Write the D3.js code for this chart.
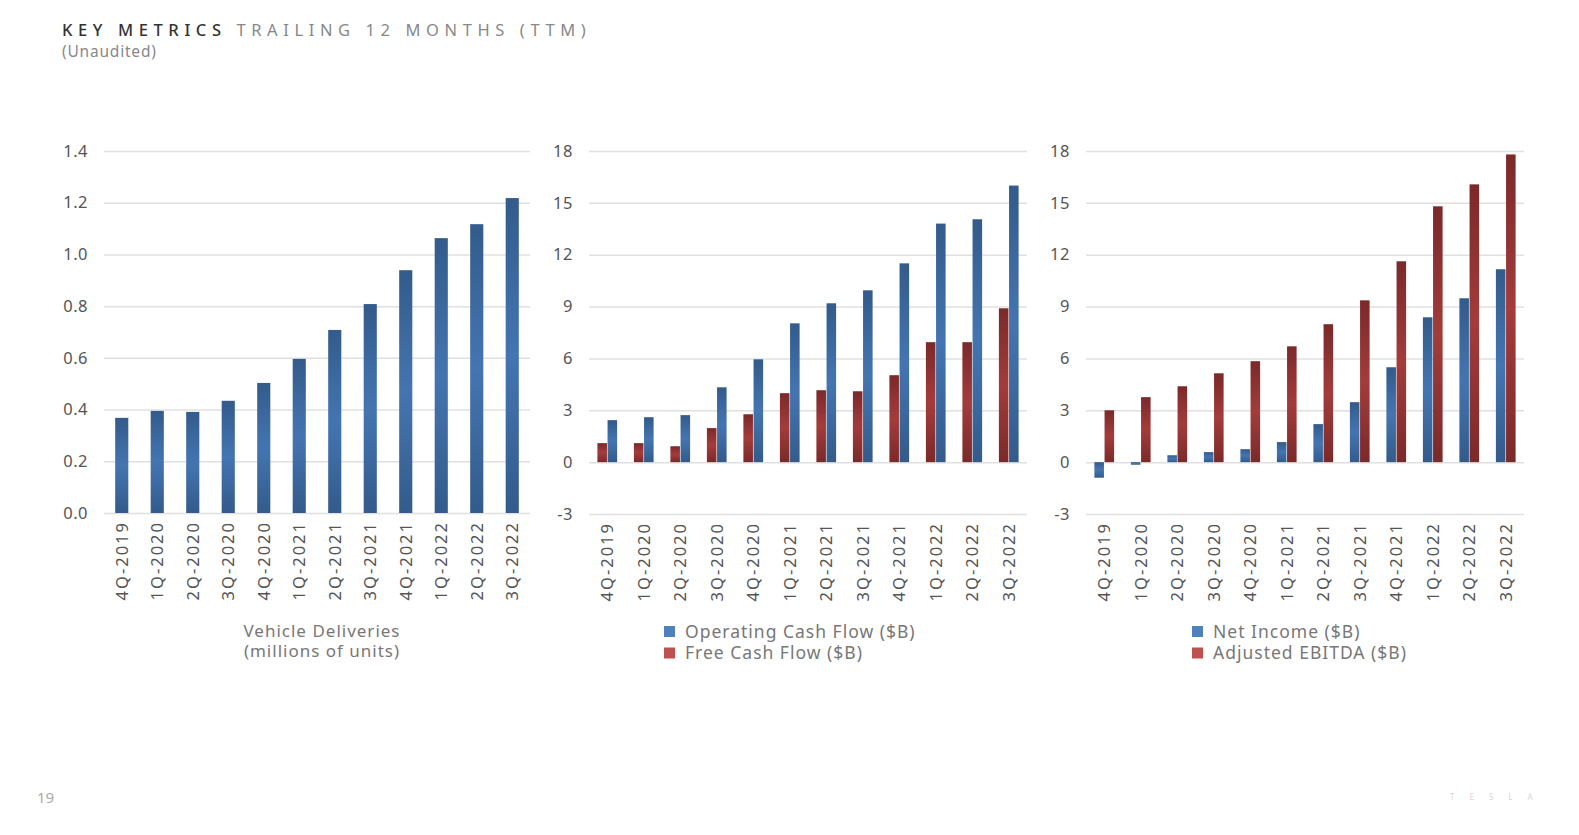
<!DOCTYPE html>
<html>
<head>
<meta charset="utf-8">
<script src="https://cdn.jsdelivr.net/npm/d3@7"></script>
<style>
  body { margin: 0; background: #fff; }
  svg { display: block; font-family: "Noto Sans", sans-serif; }
</style>
</head>
<body>
<svg id="slide" width="1579" height="835"></svg>
<script>
// quarters shown on every panel
const quarters = ["4Q-2019", "1Q-2020", "2Q-2020", "3Q-2020", "4Q-2020", "1Q-2021",
  "2Q-2021", "3Q-2021", "4Q-2021", "1Q-2022", "2Q-2022", "3Q-2022"];

// panel 1, millions of units
const deliveries = [0.368, 0.395, 0.391, 0.434, 0.503, 0.596, 0.708, 0.808, 0.939, 1.063, 1.117, 1.218];
const deliveryTicks = [0, 0.2, 0.4, 0.6, 0.8, 1.0, 1.2, 1.4];

// panel 2, $B
const freeCashFlow = [1.1, 1.1, 0.92, 1.97, 2.77, 3.99, 4.16, 4.1, 5.03, 6.94, 6.94, 8.9];
const operatingCashFlow = [2.43, 2.6, 2.72, 4.33, 5.95, 8.03, 9.19, 9.94, 11.5, 13.8, 14.05, 16.0];

// panel 3, $B
const netIncome = [-0.9, -0.15, 0.4, 0.58, 0.75, 1.16, 2.2, 3.47, 5.49, 8.38, 9.48, 11.16];
const adjustedEbitda = [3.0, 3.76, 4.39, 5.14, 5.84, 6.7, 7.98, 9.36, 11.62, 14.8, 16.07, 17.8];

const dollarTicks = [-3, 0, 3, 6, 9, 12, 15, 18];

const svg = d3.select("#slide");

// bar fills: dark at the ends, lighter in the middle
const defs = svg.append("defs");
function addGradient(id, dark, light) {
  const g = defs.append("linearGradient")
    .attr("id", id)
    .attr("x1", 0).attr("y1", 0)
    .attr("x2", 0).attr("y2", 1);
  g.append("stop").attr("offset", "0%").attr("stop-color", dark);
  g.append("stop").attr("offset", "50%").attr("stop-color", light);
  g.append("stop").attr("offset", "100%").attr("stop-color", dark);
}
addGradient("blueBar", "#335b8b", "#4475b1");
addGradient("redBar", "#7b292a", "#a33c3b");

const fills = { blue: "url(#blueBar)", red: "url(#redBar)" };
const legendColors = { blue: "#4f81bd", red: "#c0504d" };

// title
const title = svg.append("text")
  .attr("x", 62)
  .attr("y", 36)
  .attr("font-size", 16.5)
  .attr("letter-spacing", 5.6);
title.append("tspan").attr("fill", "#333").attr("font-weight", 500).text("KEY METRICS ");
title.append("tspan").attr("fill", "#888").text("TRAILING 12 MONTHS (TTM)");

svg.append("text")
  .attr("x", 62)
  .attr("y", 57)
  .attr("font-size", 15.5)
  .attr("letter-spacing", 0.8)
  .attr("fill", "#888")
  .text("(Unaudited)");

function drawPanel(p) {
  const g = svg.append("g");

  const y = d3.scaleLinear().domain(p.domain).range([p.bottom, p.top]);
  const x = d3.scaleBand()
    .domain(quarters)
    .range([p.left, p.right])
    .paddingInner(p.pad)
    .paddingOuter(p.pad / 2);
  const x1 = d3.scaleBand()
    .domain(d3.range(p.series.length))
    .range([0, x.bandwidth()])
    .paddingInner(p.series.length > 1 ? 0.06 : 0);

  // gridlines + y labels
  const yAxis = g.append("g")
    .attr("transform", `translate(${p.left},0)`)
    .call(d3.axisLeft(y)
      .tickValues(p.ticks)
      .tickFormat(p.format)
      .tickSize(-(p.right - p.left))
      .tickPadding(16));
  yAxis.select(".domain").remove();
  yAxis.selectAll("line").attr("stroke", "#e0e0e0").attr("stroke-width", 1.5);
  yAxis.selectAll("text")
    .attr("font-size", 16.5)
    .attr("letter-spacing", 0.5)
    .attr("fill", "#555")
    .attr("font-family", "Noto Sans, sans-serif");

  // bars
  p.series.forEach((s, i) => {
    g.append("g")
      .selectAll("rect")
      .data(s.values)
      .join("rect")
      .attr("x", (d, j) => x(quarters[j]) + x1(i))
      .attr("width", x1.bandwidth())
      .attr("y", (d) => y(Math.max(d, 0)))
      .attr("height", (d) => Math.abs(y(d) - y(0)))
      .attr("fill", fills[s.color]);
  });

  // quarter labels
  const xAxis = g.append("g")
    .attr("transform", `translate(0,${y(p.domain[0])})`)
    .call(d3.axisBottom(x).tickSize(0));
  xAxis.select(".domain").remove();
  xAxis.selectAll("text")
    .attr("transform", "rotate(-90)")
    .attr("x", -8)
    .attr("y", 0)
    .attr("dy", "0.36em")
    .attr("text-anchor", "end")
    .attr("font-size", 16.5)
    .attr("letter-spacing", 2)
    .attr("fill", "#555")
    .attr("font-family", "Noto Sans, sans-serif");

  // caption / legend
  if (p.caption) {
    p.caption.forEach((line, k) => {
      g.append("text")
        .attr("x", p.captionX)
        .attr("y", 637 + k * 20)
        .attr("text-anchor", "middle")
        .attr("font-size", 17)
        .attr("letter-spacing", 1)
        .attr("fill", "#777")
        .text(line);
    });
  } else {
    p.legend.forEach((item, k) => {
      g.append("rect")
        .attr("x", p.legendX)
        .attr("y", 626 + k * 21.5)
        .attr("width", 11)
        .attr("height", 11)
        .attr("fill", legendColors[item.color]);
      g.append("text")
        .attr("x", p.legendX + 21)
        .attr("y", 638 + k * 21)
        .attr("font-size", 17.5)
        .attr("letter-spacing", 1)
        .attr("fill", "#777")
        .text(item.label);
    });
  }
}

drawPanel({
  left: 104, right: 530, top: 151, bottom: 513,
  domain: [0, 1.4], ticks: deliveryTicks, format: d3.format(".1f"),
  pad: 0.63,
  series: [{ values: deliveries, color: "blue" }],
  caption: ["Vehicle Deliveries", "(millions of units)"], captionX: 322
});

drawPanel({
  left: 589, right: 1027, top: 151, bottom: 514,
  domain: [-3, 18], ticks: dollarTicks, format: (d) => String(d),
  pad: 0.46,
  series: [
    { values: freeCashFlow, color: "red" },
    { values: operatingCashFlow, color: "blue" }
  ],
  legendX: 664,
  legend: [
    { label: "Operating Cash Flow ($B)", color: "blue" },
    { label: "Free Cash Flow ($B)", color: "red" }
  ]
});

drawPanel({
  left: 1086, right: 1524, top: 151, bottom: 514,
  domain: [-3, 18], ticks: dollarTicks, format: (d) => String(d),
  pad: 0.46,
  series: [
    { values: netIncome, color: "blue" },
    { values: adjustedEbitda, color: "red" }
  ],
  legendX: 1192,
  legend: [
    { label: "Net Income ($B)", color: "blue" },
    { label: "Adjusted EBITDA ($B)", color: "red" }
  ]
});

// footer
svg.append("text")
  .attr("x", 37)
  .attr("y", 803)
  .attr("font-size", 15)
  .attr("fill", "#aaa")
  .text("19");

svg.append("text")
  .attr("x", 1450)
  .attr("y", 800)
  .attr("font-size", 8)
  .attr("letter-spacing", 15)
  .attr("fill", "#d6d6d6")
  .text("TESLA");
</script>
</body>
</html>
